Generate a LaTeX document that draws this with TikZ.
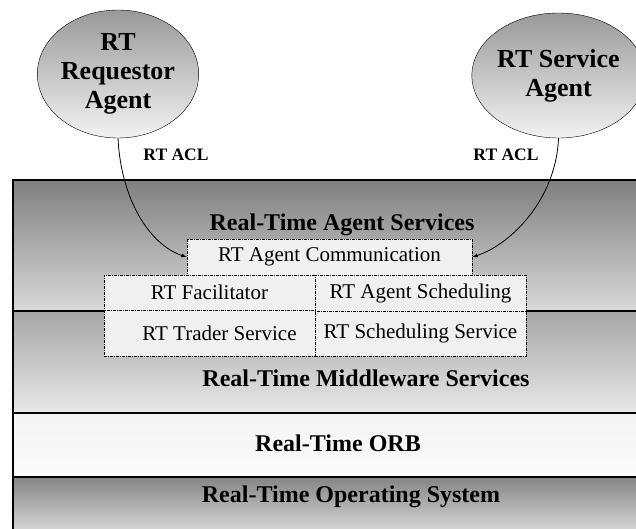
\documentclass[tikz,border=0pt]{standalone}
\usepackage{fontspec}
\setmainfont{Liberation Serif}
\usetikzlibrary{shapes.geometric}
\begin{document}
\begin{tikzpicture}[x=1pt,y=-1pt,
    agent/.style={draw,ellipse,top color=black!40,bottom color=black!5,inner sep=0pt,
        align=center,font=\fontsize{26}{29}\selectfont\bfseries},
    dienst/.style={draw,fill=black!6,line width=0.9pt,
        dash pattern=on 3pt off 1pt on 1pt off 1pt,inner sep=0pt,
        minimum width=211pt,font=\fontsize{21}{24}\selectfont},
    schicht/.style={font=\fontsize{24}{28}\selectfont\bfseries},
    acl/.style={font=\fontsize{17.5}{20}\selectfont\bfseries}]
    \useasboundingbox (0,0) rectangle (636,529);
    % Schichten
    \begin{scope}
        \clip (0,0) rectangle (636,529);
        \shade [top color=black!50,bottom color=black!15] (13,180) rectangle (670,311);
        \shade [top color=black!35,bottom color=black!9] (13,311) rectangle (670,413);
        \shade [top color=black!4,bottom color=black!2] (13,413) rectangle (670,477);
        \shade [top color=black!48,bottom color=black!17] (13,477) rectangle (670,529);
        \draw [line width=2pt] (13,540) -- (13,180) -- (670,180);
        \foreach \y in {311,413,477}{
            \draw [line width=2pt] (13,\y) -- (670,\y);
        }
    \end{scope}
    \node[schicht] (agentsvc) at (342,225) {Real-Time Agent Services};
    \node[schicht] (middleware) at (366,378) {Real-Time Middleware Services};
    \node[schicht] (orb) at (338,443) {Real-Time ORB};
    \node[schicht] (rtos) at (351,497) {Real-Time Operating System};
    % Dienste
    \node[dienst,minimum width=285pt,minimum height=36pt] (komm) at (329.5,257) {RT Agent Communication};
    \node[dienst,minimum height=35pt] (facil) at (209.5,292.5) {RT Facilitator};
    \node[dienst,minimum height=36pt] (agsched) at (420.5,293) {RT Agent Scheduling};
    \node[dienst,minimum height=46pt] (trader) at (209.5,333) {\hspace*{20pt}RT Trader Service};
    \node[dienst,minimum height=45pt] (schedsvc) at (420.5,333.5) {RT Scheduling Service};
    % Agenten
    \node[agent,minimum width=138pt,minimum height=128pt] (requestor) at (118,74) {RT\\Requestor\\Agent};
    \node[agent,minimum width=139pt,minimum height=125pt] (service) at (558.5,75.5) {RT Service\\Agent};
    % Nachrichten
    \draw [-latex,line width=0.8pt] (requestor.south) .. controls (121,200) and (150,245) .. (komm.west);
    \draw [-latex,line width=0.8pt] (service.south) .. controls (556,200) and (510,245) .. (komm.east);
    \node[acl] (aclreq) at (176,155) {RT ACL};
    \node[acl] (aclsvc) at (506,155) {RT ACL};
\end{tikzpicture}
\end{document}
